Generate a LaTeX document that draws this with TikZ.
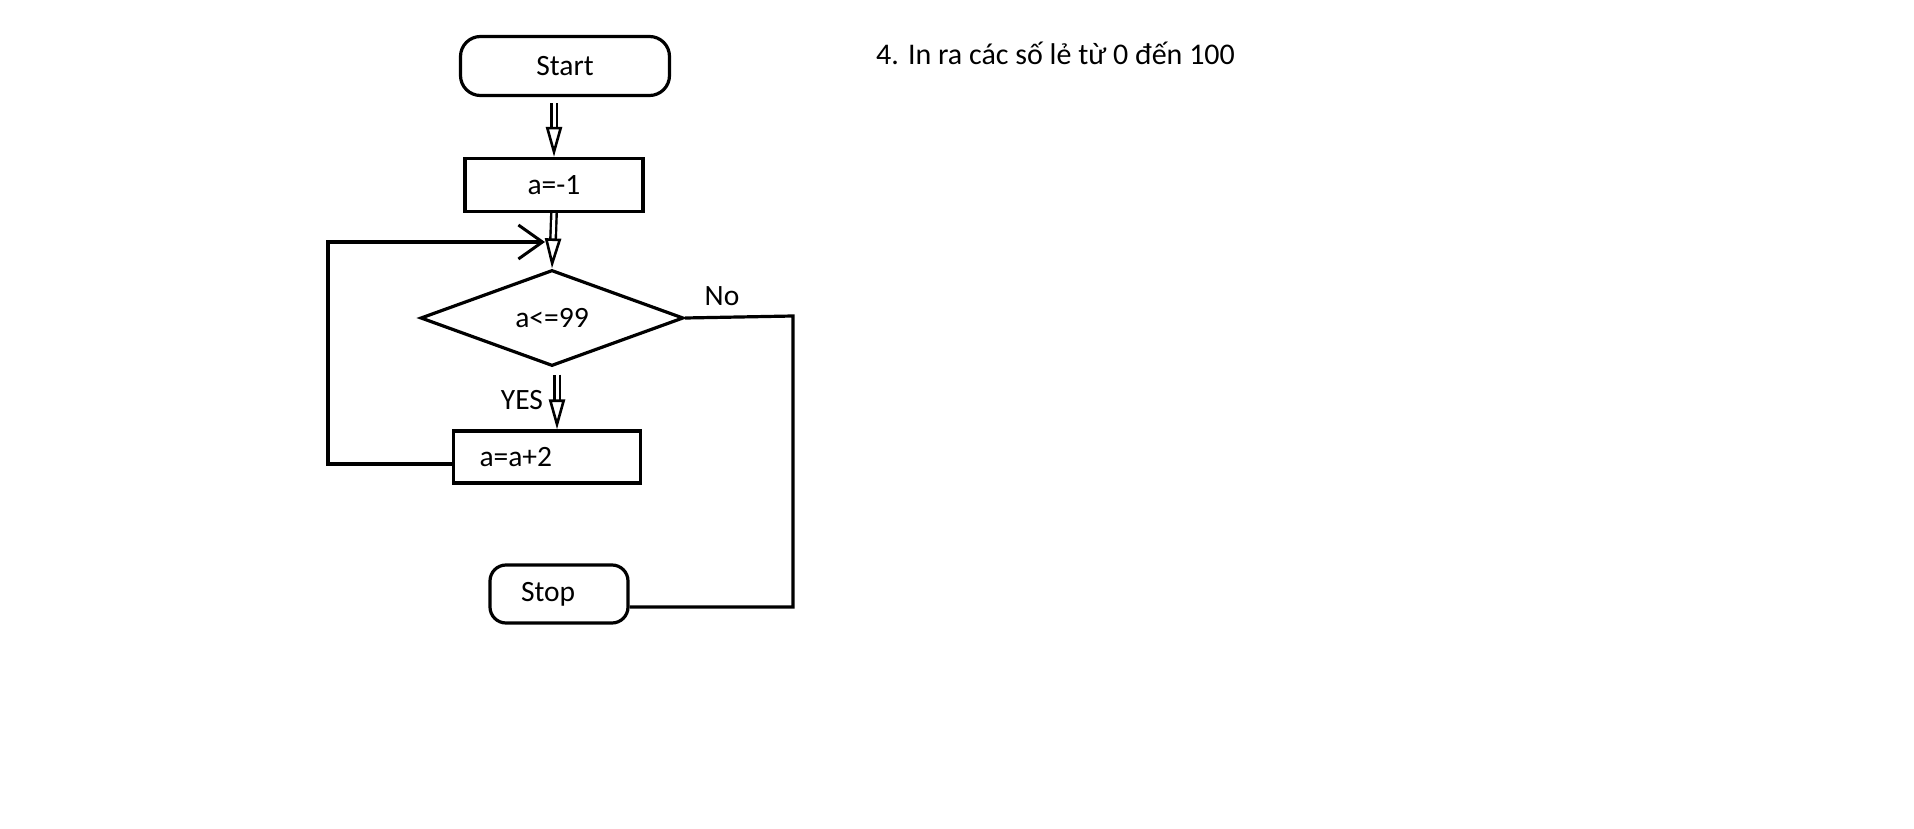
\documentclass[tikz,border=0pt]{standalone}
\usepackage{fontspec}
\setmainfont{Carlito}
\usetikzlibrary{shapes.geometric,arrows.meta}

\begin{document}
\begin{tikzpicture}[x=1pt, y=-1pt, font=\fontsize{29.5}{34}\selectfont,
  every node/.style={inner sep=0pt},
  terminal/.style={draw, line width=3.2pt, rounded corners=20pt},
  process/.style={draw, line width=3.2pt},
  decision/.style={draw, line width=3.2pt, diamond, aspect=2.74, minimum width=263pt, minimum height=96pt},
  dblarrow/.style={draw, line width=2.4pt, double distance=3pt, -{Triangle[open, length=30pt, width=16pt, line width=2.6pt]}},
  loopline/.style={draw, line width=3.2pt}]
\useasboundingbox (0,0) rectangle (1914,829);
% flowchart
\node [terminal, minimum width=209pt, minimum height=59pt] (start) at (565,66) {Start};
\node [process, minimum width=178pt, minimum height=53pt] (init) at (554,185) {a=-1};
\node [decision] (cond) at (552,318) {a<=99};
\node [process, minimum height=52pt, text width=135pt, inner xsep=26pt, align=left] (incr) at (547,457) {a=a+2};
\node [terminal, minimum height=58pt, rounded corners=16pt, text width=76pt, inner xsep=31pt, align=left] (stop) at (559,594) {Stop};
\node (yes) at (522,400) {YES};
\node (no) at (722,296) {No};
\node [anchor=base west, font=\fontsize{30}{36}\selectfont] (title) at (876,65) {4. In ra các số lẻ từ 0 đến 100};
\coordinate (loopleft) at (328,242);
\coordinate (loopjoin) at (545,242);
\coordinate (noright) at (793,316);
% connectors
\draw [dblarrow] (init.north |- start.south) ++(0,6) -- (init.north);
\draw [dblarrow] (init.south) -- (cond.north);
\draw [dblarrow] ([xshift=5pt, yshift=-7pt]cond.south) -- ([xshift=10pt]incr.north);
\draw [loopline, -{Straight Barb[length=24pt, width=34pt, line width=3pt]}] ([yshift=-7pt]incr.west) -| (loopleft) -- (loopjoin);
\draw [loopline] (cond.east) -- (noright) |- ([yshift=-13pt]stop.east);
\end{tikzpicture}
\end{document}
